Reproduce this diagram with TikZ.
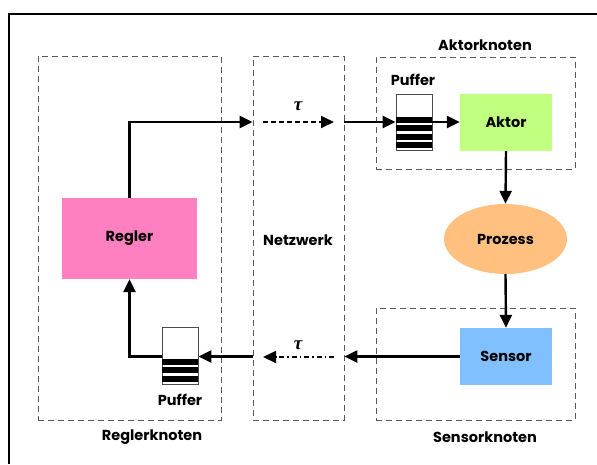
\documentclass[tikz,border=0pt]{standalone}
\usepackage{fontspec}
\setmainfont{Poppins}
\newfontfamily\grkfont{Liberation Serif}
\usetikzlibrary{arrows.meta,shapes.geometric}
\begin{document}
\begin{tikzpicture}[x=1pt,y=-1pt,
  kbox/.style={draw=black!65,dash pattern=on 6pt off 4pt,line width=0.9pt,minimum width=#1,inner sep=0pt},
  blk/.style={inner sep=0pt,font=\fontsize{14.5}{16}\selectfont\bfseries},
  lbl/.style={font=\fontsize{14.5}{16}\selectfont\bfseries,inner sep=0pt},
  arr/.style={line width=2.4pt,-{Triangle[length=13pt,width=12pt]}},
  darr/.style={line width=1.8pt,-{Triangle[length=13pt,width=12pt]}},
  pbox/.style={draw=black!70,line width=0.8pt,minimum width=36pt,inner sep=0pt,fill=white},
  tau/.style={font=\fontsize{19}{20}\selectfont\grkfont\bfseries\itshape,inner sep=0pt}
]
\useasboundingbox (0,0) rectangle (597,464);
% outer frame
\draw[line width=2.5pt] (597,14) -- (9,14) -- (9,464);

% node frames
\node[kbox=183pt,minimum height=364pt] (rk) at (129.5,238) {};
\node[kbox=91pt,minimum height=364pt] (nw) at (298.5,238) {};
\node[kbox=199pt,minimum height=112pt] (ak) at (475.5,113) {};
\node[kbox=199pt,minimum height=112pt] (sk) at (475.5,364) {};

\node[lbl] (lak) at (485,45) {Aktorknoten};
\node[lbl] (lrk) at (152,437) {Reglerknoten};
\node[lbl] (lsk) at (485,437) {Sensorknoten};
\node[lbl] (lnw) at (298,240) {Netzwerk};

% blocks
\node[blk,fill={rgb,255:red,255;green,128;blue,192},minimum width=135pt,minimum height=81pt] (regler) at (129.5,238.5) {Regler};
\node[blk,fill={rgb,255:red,192;green,255;blue,128},minimum width=92pt,minimum height=57pt] (aktor) at (506,122.5) {Aktor};
\node[blk,ellipse,fill={rgb,255:red,255;green,192;blue,128},minimum width=123pt,minimum height=70pt] (prozess) at (505.5,239) {Prozess};
\node[blk,fill={rgb,255:red,128;green,192;blue,255},minimum width=92pt,minimum height=57pt] (sensor) at (506,356.5) {Sensor};

% buffers
\node[pbox,minimum height=56pt] (pa) at (414,122) {};
\foreach \y in {117,125.3,133.6,141.9}
  \fill (pa.west |- 0,\y) rectangle ([yshift=-6pt]pa.east |- 0,\y);
\node[lbl] (lpa) at (413,80) {Puffer};

\node[pbox,minimum height=57pt] (pr) at (180,355.5) {};
\foreach \y in {359.3,367.3,376}
  \fill (pr.west |- 0,\y) rectangle ([yshift=-6pt]pr.east |- 0,\y);
\node[lbl] (lpr) at (180,400) {Puffer};

% row levels and network ends
\coordinate (yt) at (0,122);
\coordinate (nt1) at (263,122);
\coordinate (nt2) at (334,122);
\coordinate (nb1) at (334,357);
\coordinate (nb2) at (263,357);

% forward path
\draw[arr] (regler.north) |- (nw.west |- yt);
\draw[darr,dash pattern=on 5pt off 3pt] (nt1) -- (nt2);
\node[tau] (t1) at (298,106) {τ};
\draw[arr] (nw.east |- yt) -- (pa.west);
\draw[arr] (pa.east) -- (aktor.west |- pa.east);
\draw[arr] (aktor.south) -- (prozess.north);
\draw[arr] (prozess.south) -- (sensor.north);

% feedback path
\draw[arr] (sensor.west) -- (sensor.west -| nw.east);
\draw[darr,dash pattern=on 5pt off 3pt on 1.5pt off 3pt] (nb1) -- (nb2);
\node[tau] (t2) at (298,345) {τ};
\draw[arr] (nw.west |- sensor.west) -- (pr.east |- sensor.west);
\draw[arr] (pr.west |- sensor.west) -| (regler.south);
\end{tikzpicture}
\end{document}
